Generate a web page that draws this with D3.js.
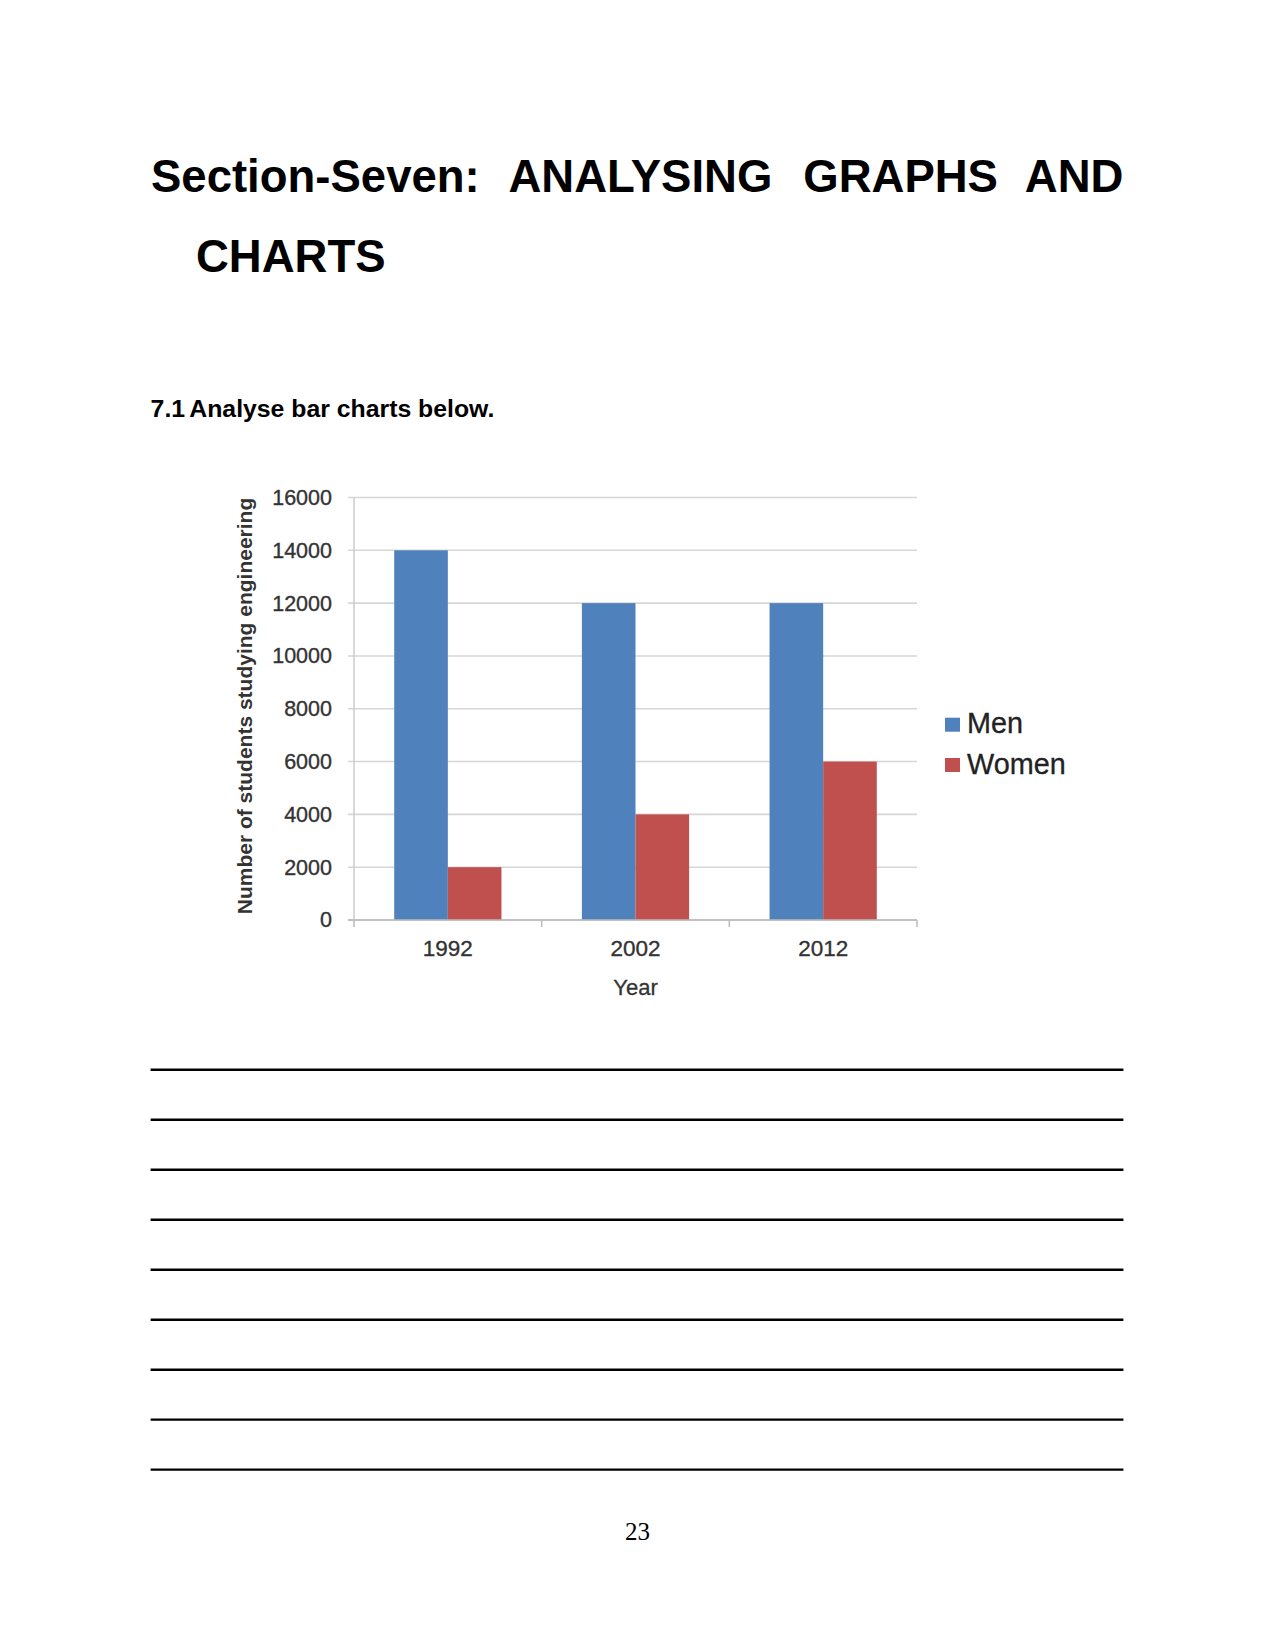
<!DOCTYPE html>
<html>
<head>
<meta charset="utf-8">
<script src="https://cdn.jsdelivr.net/npm/d3@7"></script>
<style>
  html, body { margin: 0; padding: 0; background: #fff; }
  svg { display: block; }
</style>
</head>
<body>
<svg id="page" width="1275" height="1651"></svg>
<script>
// ---- data ----
const years = ["1992", "2002", "2012"];
const seriesNames = ["Men", "Women"];
const menValues = [14000, 12000, 12000];
const womenValues = [2000, 4000, 6000];
const yTickValues = [0, 2000, 4000, 6000, 8000, 10000, 12000, 14000, 16000];
const colors = ["#4F81BD", "#C0504D"];
const yAxisTitle = "Number of students studying engineering";
const xAxisTitle = "Year";
const titleWords = ["Section-Seven:", "ANALYSING", "GRAPHS", "AND"];
const titleLine2 = "CHARTS";
const subheadNum = "7.1";
const subheadText = "Analyse bar charts below.";
const pageNumber = "23";
const answerLineCount = 9;

(function () {
const svg = d3.select("#page");
svg.append("rect").attr("width", 1275).attr("height", 1651).attr("fill", "#fff");

// ---- heading ----
const titleFont = "'Liberation Sans', Arial, sans-serif";
const tg = svg.append("g").attr("font-family", titleFont).attr("font-weight", "bold")
  .attr("font-size", 45.5).attr("fill", "#000");
const wordX = [151, 508.5, 803.3, 1123.4];
titleWords.forEach((w, i) => {
  tg.append("text").attr("x", wordX[i]).attr("y", 192)
    .attr("text-anchor", i === titleWords.length - 1 ? "end" : "start").text(w);
});
tg.append("text").attr("x", 196).attr("y", 272).text(titleLine2);

const sg = svg.append("g").attr("font-family", titleFont).attr("font-weight", "bold")
  .attr("font-size", 24.8).attr("fill", "#000");
sg.append("text").attr("x", 150.6).attr("y", 416.5).text(subheadNum);
sg.append("text").attr("x", 189.3).attr("y", 416.5).text(subheadText);

// ---- chart ----
const pLeft = 354, pRight = 917, pTop = 497.5, pBottom = 920;
const y = d3.scaleLinear().domain([0, 16000]).range([pBottom, pTop]);
const x0 = d3.scaleBand().domain(years).range([pLeft, pRight]).padding(0);
const x1 = d3.scaleBand().domain(seriesNames).range([0, x0.bandwidth()])
  .paddingInner(0).paddingOuter(0.75);

const chartFont = "'Liberation Sans', Arial, sans-serif";
const textCol = "#333";
const cg = svg.append("g").attr("font-family", chartFont);

// gridlines
cg.append("g").selectAll("line").data(yTickValues).join("line")
  .attr("x1", pLeft - 6).attr("x2", pRight)
  .attr("y1", d => y(d)).attr("y2", d => y(d))
  .attr("stroke", d => d === 0 ? "#bdbdbd" : "#d6d6d6").attr("stroke-width", 1.6);

// y tick labels via axis
const yAx = cg.append("g").attr("transform", `translate(${pLeft},0)`)
  .call(d3.axisLeft(y).tickValues(yTickValues).tickSize(0).tickPadding(22).tickFormat(d3.format("d")));
yAx.select(".domain").remove();
yAx.selectAll("text").attr("font-size", 21.5).attr("fill", textCol)
  .attr("stroke", textCol).attr("stroke-width", 0.35)
  .attr("font-family", chartFont);

// left axis line
cg.append("line").attr("x1", pLeft).attr("x2", pLeft).attr("y1", pTop).attr("y2", pBottom)
  .attr("stroke", "#cfcfcf").attr("stroke-width", 1.6);

// bars
const barData = years.map((yr, i) => ({ year: yr, values: [menValues[i], womenValues[i]] }));
const groups = cg.append("g").selectAll("g").data(barData).join("g")
  .attr("transform", d => `translate(${x0(d.year)},0)`);
groups.selectAll("rect").data(d => d.values.map((v, j) => ({ name: seriesNames[j], v, j })))
  .join("rect")
  .attr("x", d => x1(d.name)).attr("width", x1.bandwidth())
  .attr("y", d => y(d.v)).attr("height", d => y(0) - y(d.v))
  .attr("fill", d => colors[d.j]);

// bottom axis
const xAx = cg.append("g").attr("transform", `translate(0,${pBottom})`)
  .call(d3.axisBottom(x0).tickSize(0).tickPadding(20));
xAx.select(".domain").remove();
xAx.selectAll("text").attr("font-size", 22.5).attr("fill", textCol)
  .attr("stroke", textCol).attr("stroke-width", 0.35).attr("font-family", chartFont);
cg.append("line").attr("x1", pLeft - 6).attr("x2", pRight).attr("y1", pBottom).attr("y2", pBottom)
  .attr("stroke", "#bdbdbd").attr("stroke-width", 1.6);
const boundaries = years.map(d => x0(d)).concat([x0(years[years.length - 1]) + x0.bandwidth()]);
cg.append("g").selectAll("line").data(boundaries).join("line")
  .attr("x1", d => d).attr("x2", d => d).attr("y1", pBottom).attr("y2", pBottom + 7)
  .attr("stroke", "#bdbdbd").attr("stroke-width", 1.6);

// axis titles
cg.append("text").attr("x", (pLeft + pRight) / 2).attr("y", 995)
  .attr("text-anchor", "middle").attr("font-size", 22).attr("fill", textCol)
  .attr("stroke", textCol).attr("stroke-width", 0.3).text(xAxisTitle);
cg.append("text").attr("transform", `translate(252,706) rotate(-90)`)
  .attr("text-anchor", "middle").attr("font-size", 21).attr("font-weight", "bold")
  .attr("fill", textCol).text(yAxisTitle);

// legend
const lg = cg.append("g");
const legendY = [717.7, 758];
seriesNames.forEach((n, i) => {
  lg.append("rect").attr("x", 945).attr("y", legendY[i]).attr("width", 15).attr("height", 14)
    .attr("fill", colors[i]);
  lg.append("text").attr("x", 967).attr("y", legendY[i] + 15.5).attr("font-size", 28.8)
    .attr("fill", "#222").attr("stroke", "#222").attr("stroke-width", 0.3).text(n);
});

// answer lines
const lineYs = d3.range(answerLineCount).map(i => 1069.8 + i * 49.98);
svg.append("g").selectAll("line").data(lineYs).join("line")
  .attr("x1", 150.6).attr("x2", 1123.4).attr("y1", d => d).attr("y2", d => d)
  .attr("stroke", "#000").attr("stroke-width", 2.4);

// page number
svg.append("text").attr("x", 637.5).attr("y", 1540).attr("text-anchor", "middle")
  .attr("font-family", "'Liberation Serif', 'Times New Roman', serif").attr("font-size", 25)
  .attr("fill", "#000").text(pageNumber);
})();
</script>
</body>
</html>
